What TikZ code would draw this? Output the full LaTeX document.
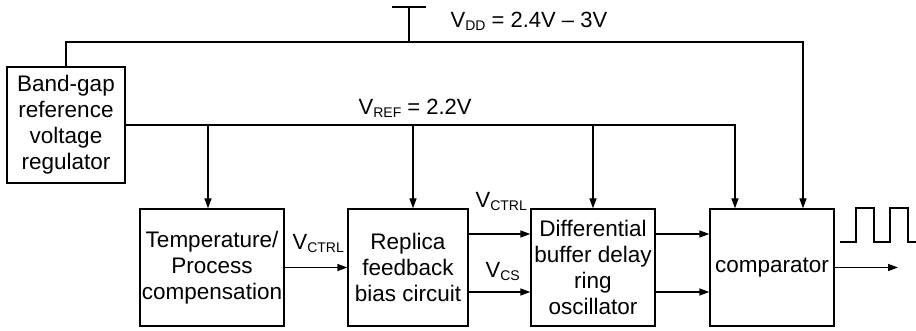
\documentclass[tikz,border=0pt]{standalone}
\usepackage{fontspec}
\setmainfont{Liberation Sans}
\usetikzlibrary{arrows.meta}
\newcommand{\sublbl}[2]{#1\raisebox{-0.2ex}{\fontsize{14}{14}\selectfont #2}}
\begin{document}
\begin{tikzpicture}[x=1pt,y=-1pt,line width=1.3pt,
  blk/.style={draw,line width=1.3pt,minimum height=117pt,inner sep=0pt,align=center,font=\fontsize{22.5}{26}\selectfont},
  arr/.style={-{Triangle[length=10pt,width=7pt]}},
  lbl/.style={anchor=base west,inner sep=0pt,font=\fontsize{22}{22}\selectfont}]
\useasboundingbox (0,0) rectangle (916,331);
% blocks
\node[blk,minimum width=118pt,minimum height=116pt] (bg) at (66,125) {Band-gap\\reference\\voltage\\regulator};
\node[blk,minimum width=144pt] (tp) at (212,267.5) {Temperature/\\Process\\compensation};
\node[blk,minimum width=120pt] (rep) at (408,267.5) {Replica\\feedback\\bias circuit};
\node[blk,minimum width=124pt] (diff) at (593,267.5) {Differential\\buffer delay\\ring\\oscillator};
\node[blk,minimum width=124pt] (comp) at (772,267.5) {comparator};
% supply
\coordinate (vddR) at (803,42);
\coordinate (vddnode) at (409,42);
\coordinate (vddsrc) at (409,7);
\coordinate (barL) at (392,7);
\coordinate (barR) at (426,7);
\draw (barL) -- (barR);
\draw (vddsrc) -- (vddnode);
\draw[arr] (bg.north) |- (vddR) -- (vddR |- comp.north);
\node[lbl] (vddlbl) at (450,28) {\sublbl{V}{DD} = 2.4V \textendash{} 3V};
% reference
\coordinate (vrefR) at (735,125);
\coordinate (b1) at (208,125);
\coordinate (b2) at (413,125);
\coordinate (b3) at (593,125);
\draw[arr] (bg.east) -- (vrefR) -- (vrefR |- comp.north);
\draw[arr] (b1) -- (b1 |- tp.north);
\draw[arr] (b2) -- (b2 |- rep.north);
\draw[arr] (b3) -- (b3 |- diff.north);
\node[lbl] (vreflbl) at (358,115) {\sublbl{V}{REF} = 2.2V};
% signal path
\draw[arr] (tp.east) -- (rep.west);
\node[lbl] (vctrl1) at (292,250) {\sublbl{V}{CTRL}};
\draw[arr] ([yshift=33.5pt]rep.east) -- ([yshift=33.5pt]diff.west);
\draw[arr] ([yshift=-24.5pt]rep.east) -- ([yshift=-24.5pt]diff.west);
\node[lbl] (vctrl2) at (475,208) {\sublbl{V}{CTRL}};
\node[lbl] (vcs) at (485,278) {\sublbl{V}{CS}};
\draw[arr] ([yshift=33.5pt]diff.east) -- ([yshift=33.5pt]comp.west);
\draw[arr] ([yshift=-24.5pt]diff.east) -- ([yshift=-24.5pt]comp.west);
\coordinate (out) at (898,267.5);
\draw[arr] (comp.east) -- (out);
% output waveform
\draw (840,242) -- (856,242) -- (856,208) -- (874,208) -- (874,242) -- (890,242) -- (890,208) -- (908,208) -- (908,242) -- (916,242);
\end{tikzpicture}
\end{document}
